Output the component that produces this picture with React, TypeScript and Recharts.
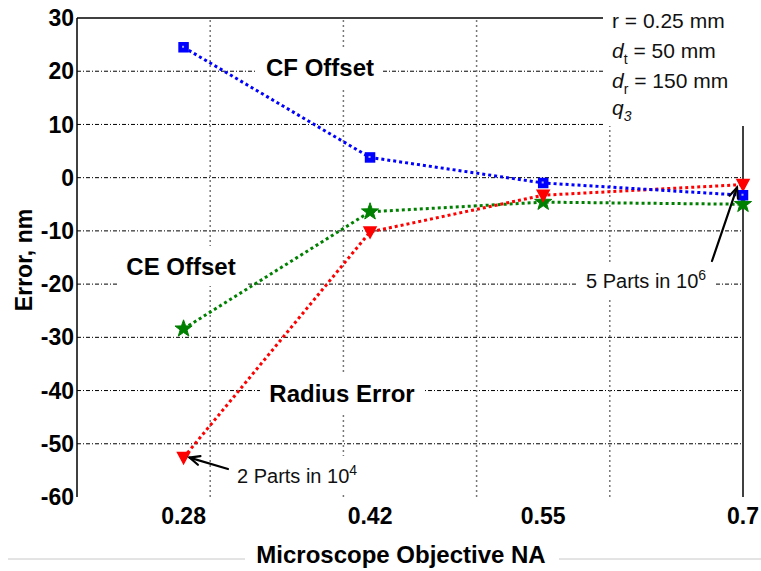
import React from "react";
import { ComposedChart, Line, XAxis, YAxis, ReferenceLine } from "recharts";

// Numerical aperture of the objectives tested
const NA = [0.28, 0.42, 0.55, 0.7];
// Error components in nm
const cfOffset = [24.5, 3.8, -1.0, -3.3];
const radiusError = [-52.6, -10.2, -3.3, -1.3];
const ceOffset = [-28.4, -6.4, -4.6, -5.0];

const yTicks = [-60, -50, -40, -30, -20, -10, 0, 10, 20, 30];
const hGrid = [-50, -40, -30, -20, -10, 0, 10, 20];
const vGrid = [0.3, 0.4, 0.5, 0.6];
const X_DOMAIN: [number, number] = [0.2, 0.7];
const Y_DOMAIN: [number, number] = [-60, 30];

const W = 761;
const H = 571;
const LEFT = 77;
const RIGHT = 743;
const TOP = 18;
const BOTTOM = 497;

const FONT = "'Liberation Sans', Arial, Helvetica, sans-serif";

const data = NA.map((na, i) => ({
  na,
  cf: cfOffset[i],
  radius: radiusError[i],
  ce: ceOffset[i],
}));

// same mapping the chart uses, for the annotation arrows
const px = (x: number) => LEFT + ((x - X_DOMAIN[0]) / (X_DOMAIN[1] - X_DOMAIN[0])) * (RIGHT - LEFT);
const py = (y: number) => TOP + ((Y_DOMAIN[1] - y) / (Y_DOMAIN[1] - Y_DOMAIN[0])) * (BOTTOM - TOP);

const SquareDot = (props: any) => {
  const { cx, cy } = props;
  if (cx == null || cy == null) return null;
  return (
    <g>
      <rect x={cx - 4.5} y={cy - 4.5} width={9} height={9} fill="#0000ff" stroke="#0000ff" strokeWidth={1.5} />
      <rect x={cx - 1.5} y={cy - 1.5} width={2} height={2} fill="#aab0ff" />
    </g>
  );
};

const TriangleDot = (props: any) => {
  const { cx, cy } = props;
  if (cx == null || cy == null) return null;
  return (
    <polygon
      points={`${cx - 6},${cy - 5} ${cx + 6},${cy - 5} ${cx},${cy + 6}`}
      fill="#ff0000"
      stroke="#ff0000"
      strokeWidth={1.5}
    />
  );
};

const StarDot = (props: any) => {
  const { cx, cy } = props;
  if (cx == null || cy == null) return null;
  const pts: string[] = [];
  for (let k = 0; k < 10; k++) {
    const r = k % 2 === 0 ? 9 : 3.6;
    const a = -Math.PI / 2 + (k * Math.PI) / 5;
    pts.push(`${cx + r * Math.cos(a)},${cy + r * Math.sin(a)}`);
  }
  return <polygon points={pts.join(" ")} fill="#008000" stroke="#008000" strokeWidth={1} />;
};

function Arrow({ x1, y1, x2, y2 }: { x1: number; y1: number; x2: number; y2: number }) {
  const a = Math.atan2(y2 - y1, x2 - x1);
  const len = 11;
  const spread = 0.42;
  const h1 = [x2 - len * Math.cos(a - spread), y2 - len * Math.sin(a - spread)];
  const h2 = [x2 - len * Math.cos(a + spread), y2 - len * Math.sin(a + spread)];
  return (
    <g stroke="#000" strokeWidth={2.2} fill="none" strokeLinecap="round">
      <line x1={x1} y1={y1} x2={x2} y2={y2} />
      <polyline points={`${h1[0]},${h1[1]} ${x2},${y2} ${h2[0]},${h2[1]}`} />
    </g>
  );
}

function Overlay() {
  const boldLabel = { fontFamily: FONT, fontWeight: 700, fontSize: 24, fill: "#000" } as const;
  const note = { fontFamily: FONT, fontSize: 20, fill: "#111" } as const;
  const tipA = { x: px(NA[0]) + 6, y: py(radiusError[0]) };
  const tipB = { x: px(NA[3]) - 6, y: py(radiusError[3]) + 3 };
  return (
    <svg
      width={W}
      height={H}
      style={{ position: "absolute", left: 0, top: 0, pointerEvents: "none" }}
    >
      {/* parameter box, top right */}
      <rect x={603} y={0} width={158} height={126} fill="#fff" />
      <text x={612} y={28} {...note} fontSize={21}>r = 0.25 mm</text>
      <text x={612} y={58} {...note} fontSize={21}>
        <tspan fontStyle="italic">d</tspan>
        <tspan fontSize={14} dy={6}>t</tspan>
        <tspan dy={-6}> = 50 mm</tspan>
      </text>
      <text x={612} y={88} {...note} fontSize={21}>
        <tspan fontStyle="italic">d</tspan>
        <tspan fontSize={14} dy={6}>r</tspan>
        <tspan dy={-6}> = 150 mm</tspan>
      </text>
      <text x={612} y={115} {...note} fontSize={21} fontStyle="italic">
        <tspan>q</tspan>
        <tspan fontSize={14} dy={6}>3</tspan>
      </text>

      {/* series labels */}
      <rect x={257} y={47} width={126} height={41} fill="#fff" />
      <text x={320} y={76} textAnchor="middle" {...boldLabel}>CF Offset</text>
      <rect x={117} y={246} width={130} height={40} fill="#fff" />
      <text x={181} y={275} textAnchor="middle" {...boldLabel}>CE Offset</text>
      <rect x={260} y={373} width={163} height={40} fill="#fff" />
      <text x={342} y={402} textAnchor="middle" {...boldLabel}>Radius Error</text>

      {/* part-per annotations */}
      <rect x={228} y={456} width={135} height={39} fill="#fff" />
      <text x={237} y={483} {...note}>
        2 Parts in 10<tspan fontSize={14} dy={-8}>4</tspan>
      </text>
      <Arrow x1={228} y1={469} x2={tipA.x} y2={tipA.y} />
      <rect x={577} y={263} width={138} height={37} fill="#fff" />
      <text x={586} y={288} {...note}>
        5 Parts in 10<tspan fontSize={14} dy={-8}>6</tspan>
      </text>
      <Arrow x1={712} y1={261} x2={tipB.x} y2={tipB.y} />

      {/* axis titles */}
      <line x1={8} y1={559} x2={245} y2={559} stroke="#c8c8c8" strokeWidth={1} />
      <line x1={559} y1={559} x2={761} y2={559} stroke="#c8c8c8" strokeWidth={1} />
      <text x={401} y={563} textAnchor="middle" {...boldLabel}>Microscope Objective NA</text>
      <text
        transform="translate(32, 260) rotate(-90)"
        textAnchor="middle"
        {...boldLabel}
        fontSize={23}
      >
        Error, nm
      </text>
    </svg>
  );
}

export default function App() {
  const tickStyle = { fontFamily: FONT, fontWeight: 700, fontSize: 23, fill: "#000" };
  return (
    <div style={{ position: "absolute", left: 0, top: 0, width: W, height: H, background: "#fff" }}>
      <ComposedChart
        width={W}
        height={H}
        data={data}
        margin={{ top: TOP, right: W - RIGHT, bottom: 0, left: 0 }}
      >
        <XAxis
          dataKey="na"
          type="number"
          domain={X_DOMAIN}
          ticks={NA}
          tickFormatter={(v: number) => String(v)}
          axisLine={false}
          tickLine={false}
          tickSize={11}
          tickMargin={0}
          height={H - BOTTOM}
          tick={tickStyle}
          interval={0}
        />
        <YAxis
          type="number"
          domain={Y_DOMAIN}
          ticks={yTicks}
          width={LEFT}
          axisLine={{ stroke: "#000", strokeWidth: 1.5 }}
          tickLine={false}
          tickSize={3}
          tickMargin={0}
          tick={tickStyle}
          interval={0}
        />
        {hGrid.map((v) => (
          <ReferenceLine key={`h${v}`} y={v} stroke="#000" strokeWidth={1} strokeDasharray="4 2 1 2" />
        ))}
        {vGrid.map((v) => (
          <ReferenceLine key={`v${v}`} x={v} stroke="#777" strokeWidth={1.5} strokeDasharray="2 3" />
        ))}
        <ReferenceLine y={30} stroke="#000" strokeWidth={1.5} />
        <ReferenceLine x={0.7} stroke="#000" strokeWidth={1.5} />
        <Line
          dataKey="ce"
          stroke="#008000"
          strokeWidth={3}
          strokeDasharray="3 3"
          dot={<StarDot />}
          activeDot={false}
          isAnimationActive={false}
        />
        <Line
          dataKey="radius"
          stroke="#ff0000"
          strokeWidth={3}
          strokeDasharray="3 3"
          dot={<TriangleDot />}
          activeDot={false}
          isAnimationActive={false}
        />
        <Line
          dataKey="cf"
          stroke="#0000ff"
          strokeWidth={3}
          strokeDasharray="3 3"
          dot={<SquareDot />}
          activeDot={false}
          isAnimationActive={false}
        />
      </ComposedChart>
      <Overlay />
    </div>
  );
}
